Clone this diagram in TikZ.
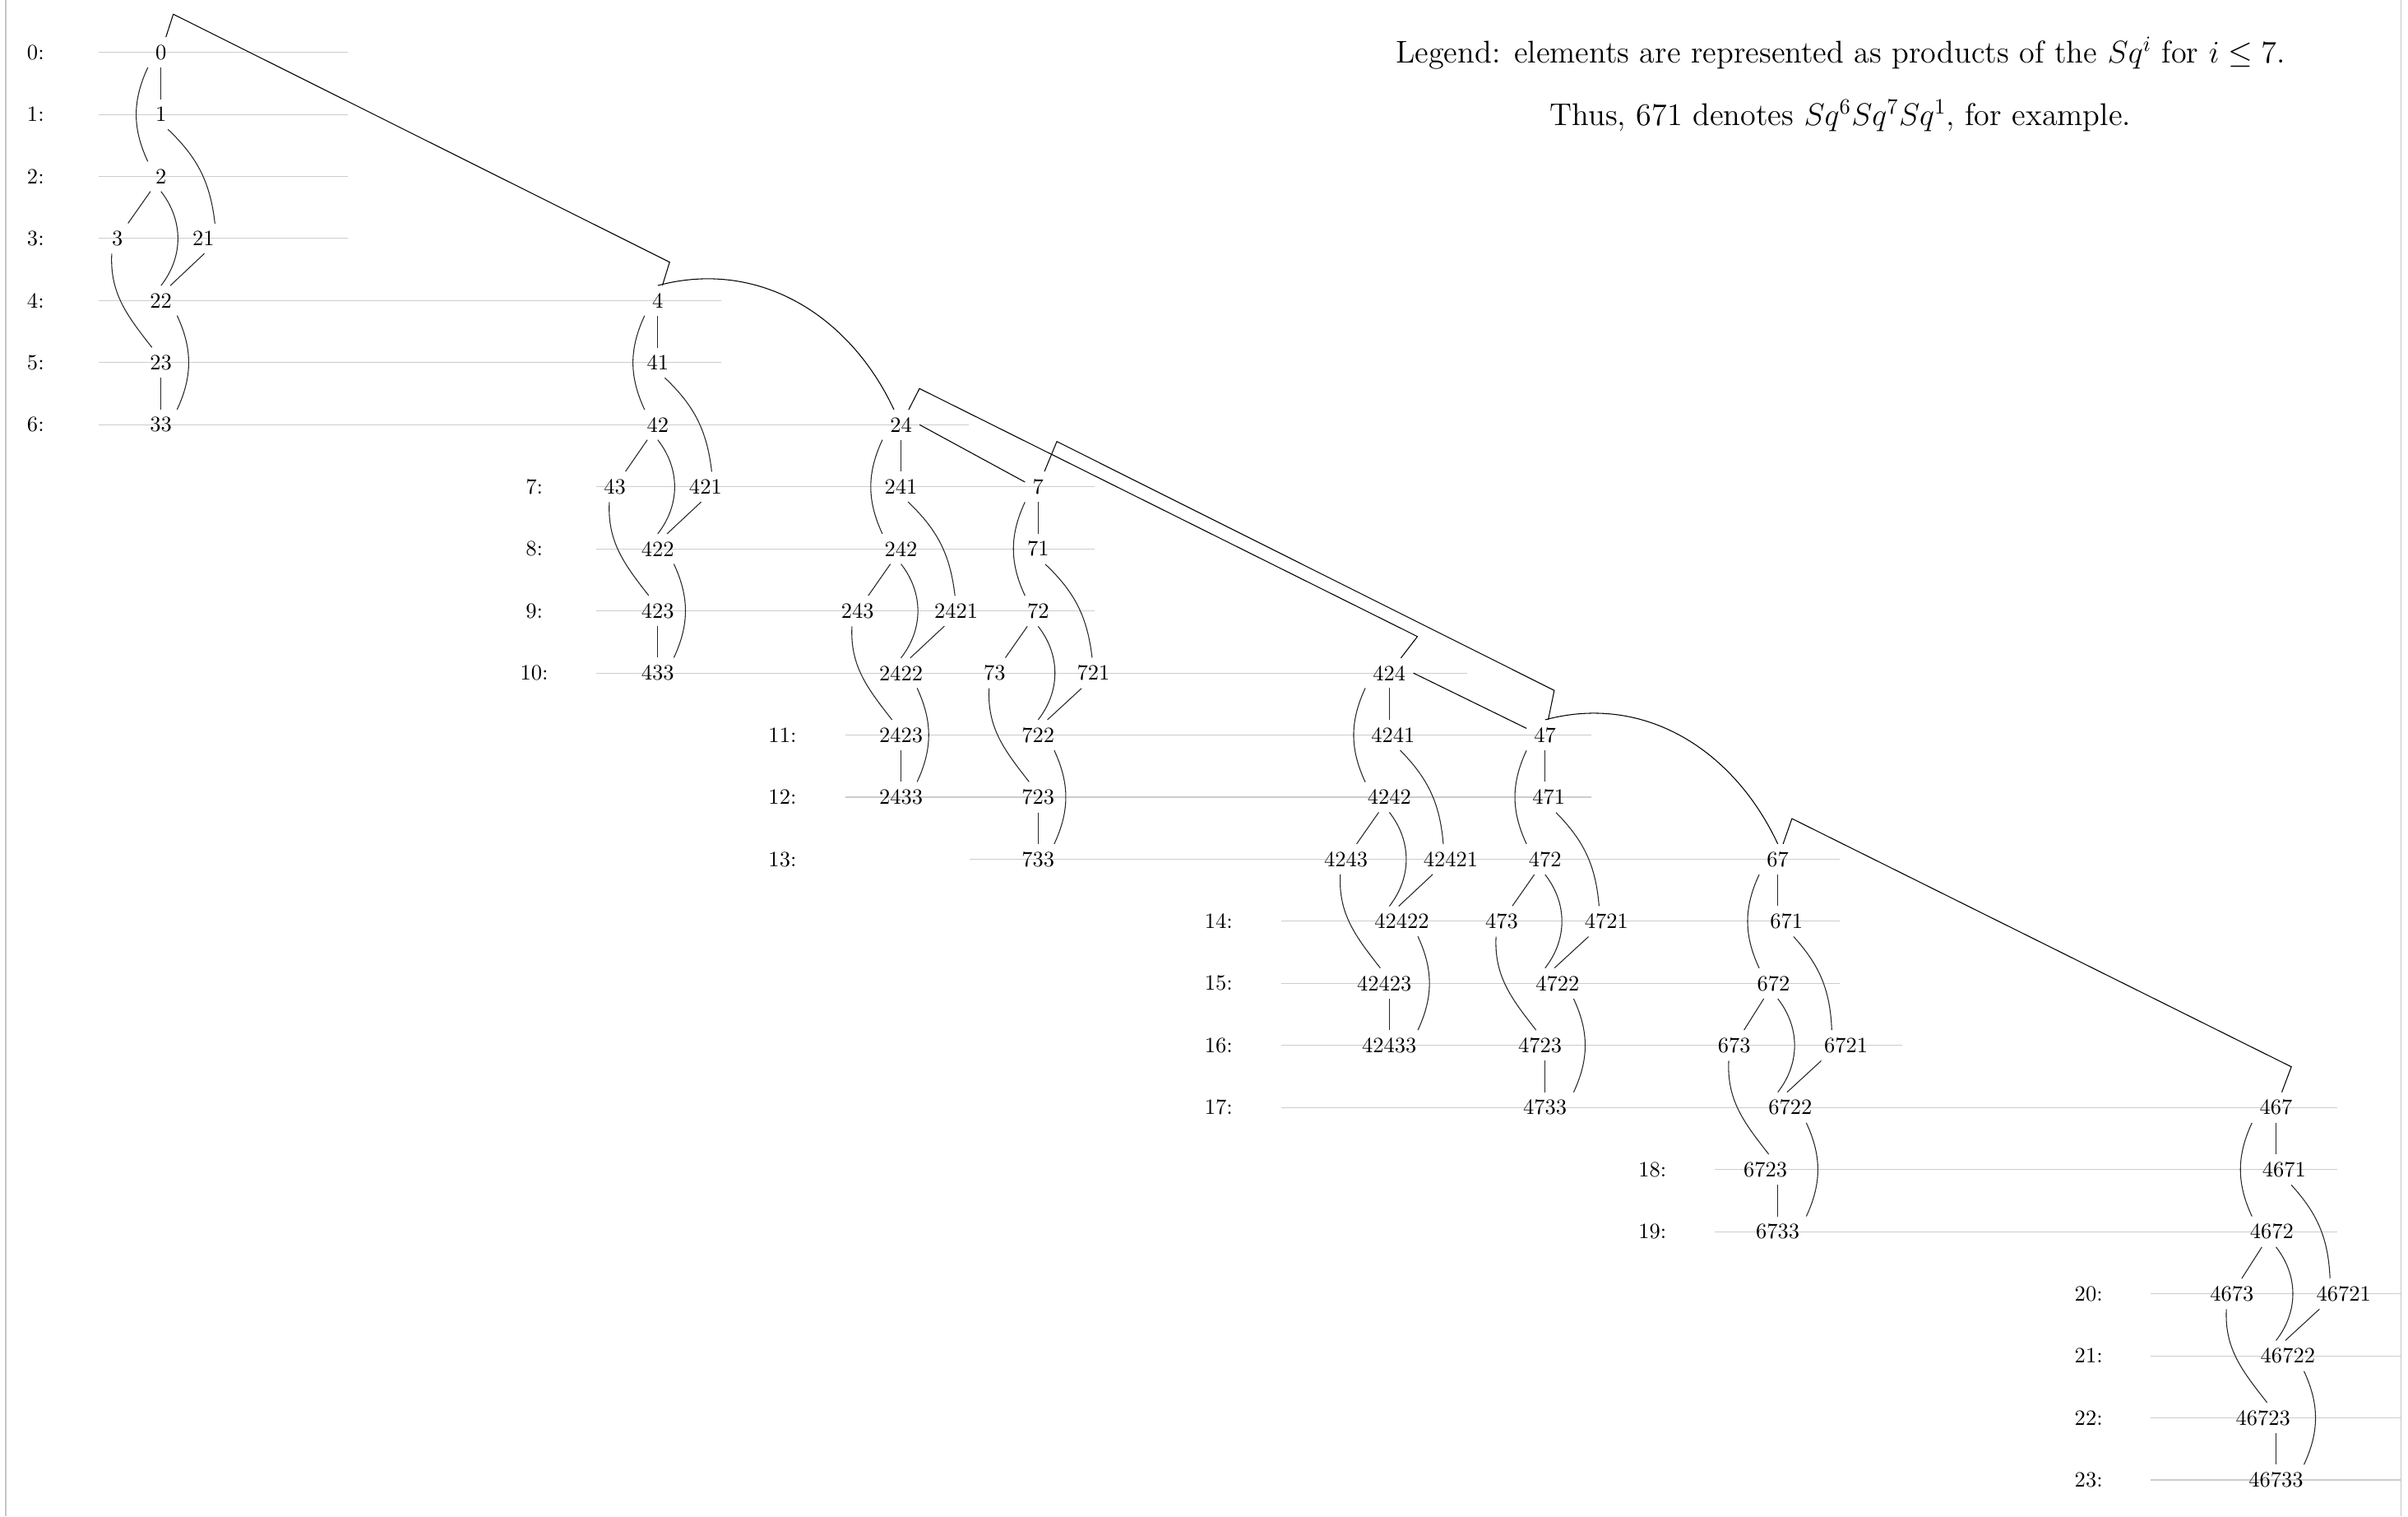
\documentclass[tikz,border=0pt]{standalone}
\usetikzlibrary{calc}
\tikzset{
  el/.style={inner sep=0.3333em},
  rl/.style={inner sep=0.3333em},
  rowline/.style={gray!40, line width=0.4pt},
  frameline/.style={gray!45, line width=0.5pt},
  sqedge/.style={black!85, line width=0.4pt},
  sqlink/.style={black, line width=0.4pt},
  legendtext/.style={font=\Large, anchor=base, inner sep=0pt}
}
\newcommand{\blockedges}[1]{%
  \draw[sqedge] (#10.south -| #133) -- (#11.north -| #133);
  \draw[sqedge] (#10.south west) to[bend right=25] (#10.south west |- #12.north);
  \draw[sqedge] (#11.-65) to[bend left=20] ($(#121.north -| #133)+(0.87,0)$);
  \draw[sqedge] (#12) -- (#13);
  \draw[sqedge] (#12.south -| #133) to[bend left=38] (#122.north -| #133);
  \draw[sqedge] ($(#121.south -| #133)+(0.70,0)$) -- ($(#122.north -| #133)+(0.15,0)$);
  \draw[sqedge] ($(#13.south)+(-0.09,0)$) to[out=-93,in=128] ($(#123.north -| #133)+(-0.145,0)$);
  \draw[sqedge] ($(#122.south)+(0.26,0)$) to[bend left=25] ($(#122.south |- #133.north)+(0.26,0)$);
  \draw[sqedge] (#123.south -| #133) -- (#133.north);
}
\begin{document}
\begin{tikzpicture}
\useasboundingbox (0,0.843) rectangle (38.807,-23.584);
% frame lines
\draw[frameline] (0.093,0.843) -- (0.093,-23.584);
\draw[frameline] (38.69,0.843) -- (38.69,-23.584);
% row guide lines
\foreach \r in {0,1,2,3} \draw[rowline] (1.59,-\r) -- (5.61,-\r);
\foreach \r in {4,5} \draw[rowline] (1.59,-\r) -- (11.62,-\r);
\draw[rowline] (1.59,-6) -- (15.61,-6);
\foreach \r in {7,8,9} \draw[rowline] (9.61,-\r) -- (17.64,-\r);
\draw[rowline] (9.61,-10) -- (23.64,-10);
\foreach \r in {11,12} \draw[rowline] (13.62,-\r) -- (25.65,-\r);
\draw[rowline] (15.63,-13) -- (29.65,-13);
\foreach \r in {14,15} \draw[rowline] (20.65,-\r) -- (29.65,-\r);
\draw[rowline] (20.65,-16) -- (30.65,-16);
\draw[rowline] (20.65,-17) -- (37.67,-17);
\foreach \r in {18,19} \draw[rowline] (27.64,-\r) -- (37.67,-\r);
\foreach \r in {20,21,22,23} \draw[rowline] (34.66,-\r) -- (38.69,-\r);
% row labels
\foreach \r in {0,...,6} \node[rl] (r\r) at (0.574,-\r) {\r:};
\foreach \r in {7,...,10} \node[rl] (r\r) at (8.61,-\r) {\r:};
\foreach \r in {11,12,13} \node[rl] (r\r) at (12.61,-\r) {\r:};
\foreach \r in {14,...,17} \node[rl] (r\r) at (19.64,-\r) {\r:};
\foreach \r in {18,19} \node[rl] (r\r) at (26.63,-\r) {\r:};
\foreach \r in {20,...,23} \node[rl] (r\r) at (33.66,-\r) {\r:};
% legend
\node[legendtext] (leg1) at (29.66,-0.175) {Legend: elements are represented as products of the $Sq^i$ for $i\leq 7$.};
\node[legendtext] (leg2) at (29.66,-1.175) {Thus, 671 denotes $Sq^6Sq^7Sq^1$, for example.};
% block A
\node[el] (A0) at (2.594,0) {0};
\node[el] (A1) at (2.594,-1) {1};
\node[el] (A2) at (2.594,-2) {2};
\node[el] (A3) at (1.891,-3) {3};
\node[el] (A21) at (3.278,-3) {21};
\node[el] (A22) at (2.594,-4) {22};
\node[el] (A23) at (2.594,-5) {23};
\node[el] (A33) at (2.594,-6) {33};
% block B
\node[el] (B0) at (10.60,-4) {4};
\node[el] (B1) at (10.60,-5) {41};
\node[el] (B2) at (10.60,-6) {42};
\node[el] (B3) at (9.91,-7) {43};
\node[el] (B21) at (11.37,-7) {421};
\node[el] (B22) at (10.60,-8) {422};
\node[el] (B23) at (10.60,-9) {423};
\node[el] (B33) at (10.60,-10) {433};
% block C
\node[el] (C0) at (14.52,-6) {24};
\node[el] (C1) at (14.52,-7) {241};
\node[el] (C2) at (14.52,-8) {242};
\node[el] (C3) at (13.82,-9) {243};
\node[el] (C21) at (15.41,-9) {2421};
\node[el] (C22) at (14.52,-10) {2422};
\node[el] (C23) at (14.52,-11) {2423};
\node[el] (C33) at (14.52,-12) {2433};
% block D
\node[el] (D0) at (16.73,-7) {7};
\node[el] (D1) at (16.73,-8) {71};
\node[el] (D2) at (16.73,-9) {72};
\node[el] (D3) at (16.03,-10) {73};
\node[el] (D21) at (17.62,-10) {721};
\node[el] (D22) at (16.73,-11) {722};
\node[el] (D23) at (16.73,-12) {723};
\node[el] (D33) at (16.73,-13) {733};
% block E
\node[el] (E0) at (22.39,-10) {424};
\node[el] (E1) at (22.45,-11) {4241};
\node[el] (E2) at (22.39,-12) {4242};
\node[el] (E3) at (21.69,-13) {4243};
\node[el] (E21) at (23.38,-13) {42421};
\node[el] (E22) at (22.59,-14) {42422};
\node[el] (E23) at (22.31,-15) {42423};
\node[el] (E33) at (22.39,-16) {42433};
% block F
\node[el] (F0) at (24.90,-11) {47};
\node[el] (F1) at (24.96,-12) {471};
\node[el] (F2) at (24.90,-13) {472};
\node[el] (F3) at (24.20,-14) {473};
\node[el] (F21) at (25.89,-14) {4721};
\node[el] (F22) at (25.10,-15) {4722};
\node[el] (F23) at (24.82,-16) {4723};
\node[el] (F33) at (24.90,-17) {4733};
% block G
\node[el] (G0) at (28.65,-13) {67};
\node[el] (G1) at (28.79,-14) {671};
\node[el] (G2) at (28.58,-15) {672};
\node[el] (G3) at (27.95,-16) {673};
\node[el] (G21) at (29.75,-16) {6721};
\node[el] (G22) at (28.85,-17) {6722};
\node[el] (G23) at (28.45,-18) {6723};
\node[el] (G33) at (28.65,-19) {6733};
% block H
\node[el] (H0) at (36.68,-17) {467};
\node[el] (H1) at (36.81,-18) {4671};
\node[el] (H2) at (36.61,-19) {4672};
\node[el] (H3) at (35.97,-20) {4673};
\node[el] (H21) at (37.77,-20) {46721};
\node[el] (H22) at (36.87,-21) {46722};
\node[el] (H23) at (36.47,-22) {46723};
\node[el] (H33) at (36.68,-23) {46733};
% edges inside the blocks
\blockedges{A}
\blockedges{B}
\blockedges{C}
\blockedges{D}
\blockedges{E}
\blockedges{F}
\blockedges{G}
\blockedges{H}
% Sq4 connectors
\draw[sqlink] (A0) -- ($(A0)+(0.199,0.614)$) -- ($(B0)+(0.191,0.620)$) -- (B0);
\draw[sqlink] (C0) -- ($(C0)+(0.298,0.583)$) -- ($(E0)+(0.453,0.588)$) -- (E0);
\draw[sqlink] (D0) -- ($(D0)+(0.302,0.730)$) -- ($(F0)+(0.148,0.720)$) -- (F0);
\draw[sqlink] (G0) -- ($(G0)+(0.228,0.655)$) -- ($(H0)+(0.247,0.656)$) -- (H0);
% Sq2 arcs
\draw[sqlink] (B0.north) to[out=15,in=115] (C0);
\draw[sqlink] (F0.north) to[out=15,in=115] (G0.north);
% straight links
\draw[sqlink] (C0.east) -- (D0.160);
\draw[sqlink] (E0.east) -- (F0.160);
\end{tikzpicture}
\end{document}
